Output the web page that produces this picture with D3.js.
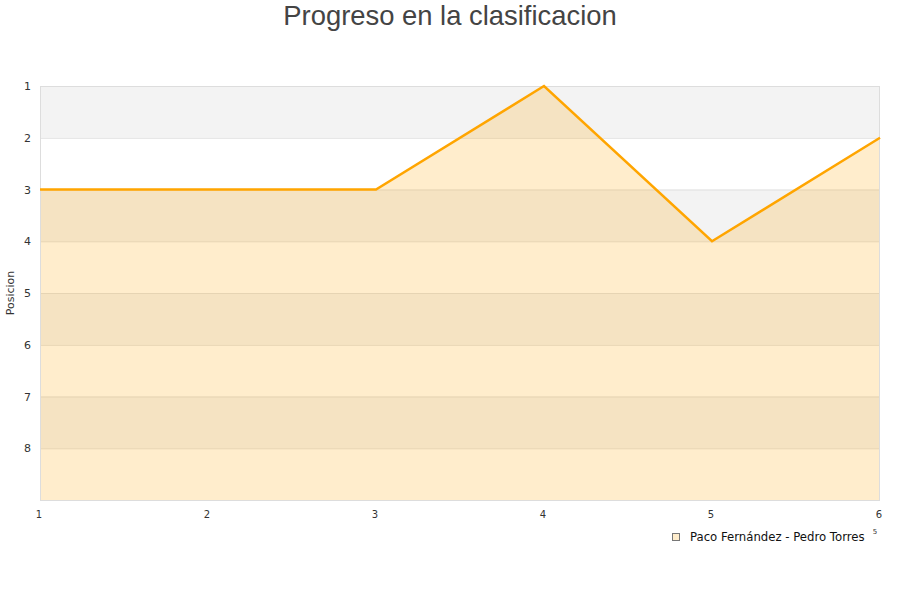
<!DOCTYPE html>
<html><head><meta charset="utf-8">
<script src="https://cdn.jsdelivr.net/npm/d3@7"></script>
<style>body{margin:0;background:#fff}</style>
</head><body>
<script>
const jornadas = [1, 2, 3, 4, 5, 6];
const posiciones = [3, 3, 3, 1, 4, 2];
const yTicks = [1, 2, 3, 4, 5, 6, 7, 8];
const serieNombre = "Paco Fernández - Pedro Torres";
const titulo = "Progreso en la clasificacion";
const yTitulo = "Posicion";

const W = 900, H = 600;
const m = {l: 40, r: 20, t: 86, b: 100};
const svg = d3.select("body").append("svg").attr("width", W).attr("height", H);
const x = d3.scaleLinear().domain([1, 6]).range([m.l, W - m.r]);
const y = d3.scaleLinear().domain([1, 9]).range([m.t, H - m.b]);

// alternating bands
const bands = d3.range(1, 9);
svg.selectAll("rect.band").data(bands).enter().append("rect")
  .attr("x", x(1)).attr("width", x(6) - x(1))
  .attr("y", d => y(d)).attr("height", d => y(d + 1) - y(d))
  .attr("fill", d => d % 2 === 1 ? "#f3f3f3" : "#ffffff");

// grid lines
svg.selectAll("line.grid").data(yTicks.slice(1)).enter().append("line")
  .attr("x1", x(1)).attr("x2", x(6))
  .attr("y1", d => y(d) + 0.5).attr("y2", d => y(d) + 0.5)
  .attr("stroke", "#e0e0e0");

const pts = jornadas.map((j, i) => [j, posiciones[i]]);
const area = d3.area().x(d => x(d[0])).y0(y(9)).y1(d => y(d[1]));
svg.append("path").attr("d", area(pts)).attr("fill", "rgba(255,165,0,0.2)");

// plot border
svg.append("rect").attr("x", x(1) + 0.5).attr("y", y(1) + 0.5)
  .attr("width", x(6) - x(1) - 1).attr("height", y(9) - y(1))
  .attr("fill", "none").attr("stroke", "#dddddd");

const line = d3.line().x(d => x(d[0])).y(d => y(d[1]));
svg.append("path").attr("d", line(pts)).attr("fill", "none")
  .attr("stroke", "#ffa500").attr("stroke-width", 2.5);

// y labels
svg.selectAll("text.yl").data(yTicks).enter().append("text")
  .attr("x", 31).attr("y", d => y(d) + 4).attr("text-anchor", "end")
  .attr("font-family", "DejaVu Sans, sans-serif").attr("font-size", 11)
  .attr("fill", "#333").text(d => d);

// x labels
svg.selectAll("text.xl").data(jornadas).enter().append("text")
  .attr("x", d => x(d) - 1).attr("y", 518).attr("text-anchor", "middle")
  .attr("font-family", "DejaVu Sans, sans-serif").attr("font-size", 10)
  .attr("fill", "#333").text(d => d);

// y title
svg.append("text").attr("transform", "translate(14,293) rotate(-90)")
  .attr("text-anchor", "middle").attr("font-family", "DejaVu Sans, sans-serif")
  .attr("font-size", 11).attr("fill", "#333").text(yTitulo);

// title
svg.append("text").attr("x", 450).attr("y", 25).attr("text-anchor", "middle")
  .attr("font-family", "Liberation Sans, Arial, sans-serif").attr("font-size", 27.4)
  .attr("fill", "#444").text(titulo);

// legend
svg.append("rect").attr("x", 672.5).attr("y", 533.5).attr("width", 7).attr("height", 7)
  .attr("fill", "#ffedcc").attr("stroke", "#777");
svg.append("text").attr("x", 690).attr("y", 541)
  .attr("font-family", "DejaVu Sans, sans-serif").attr("font-size", 11.7)
  .attr("fill", "#111").text(serieNombre);
svg.append("text").attr("x", 875).attr("y", 534).attr("text-anchor", "middle")
  .attr("font-family", "DejaVu Sans, sans-serif").attr("font-size", 7)
  .attr("fill", "#333").text("5");
</script>
</body></html>
